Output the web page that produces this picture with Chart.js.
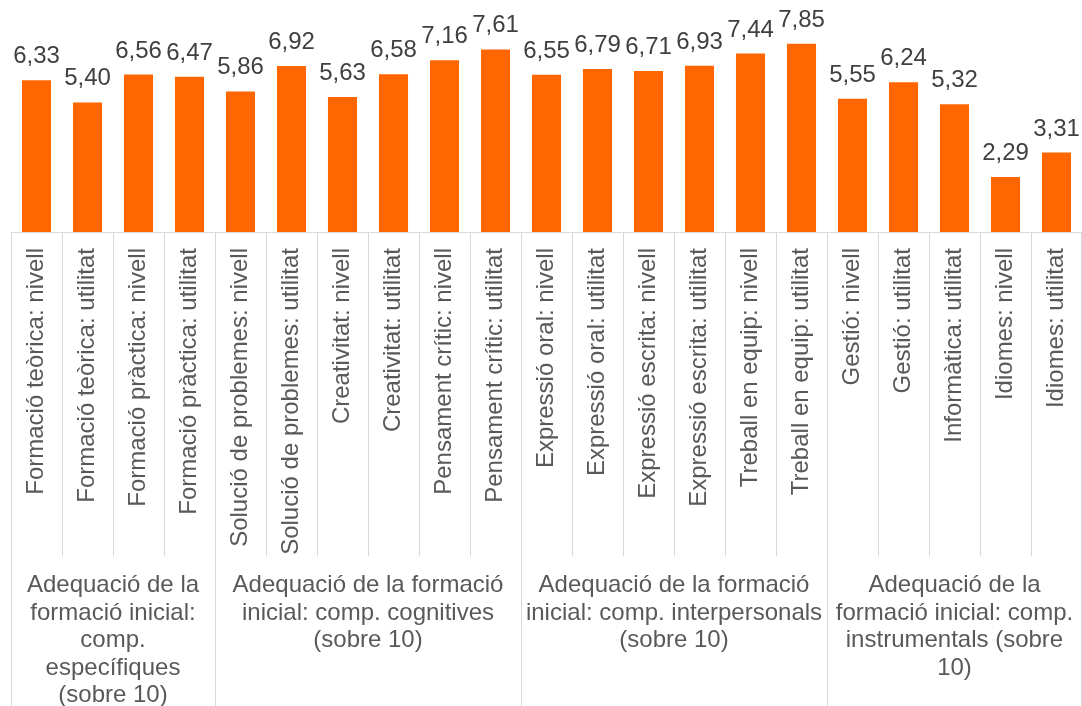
<!DOCTYPE html>
<html>
<head>
<meta charset="utf-8">
<script src="https://cdn.jsdelivr.net/npm/chart.js@4"></script>
<style>
html,body{margin:0;padding:0;background:#fff;overflow:hidden;}
#wrap{width:1082px;height:706px;position:relative;}
</style>
</head>
<body>
<div id="wrap"><canvas id="c"></canvas></div>
<script>
const categories = [
  "Formació teòrica: nivell","Formació teòrica: utilitat","Formació pràctica: nivell","Formació pràctica: utilitat",
  "Solució de problemes: nivell","Solució de problemes: utilitat","Creativitat: nivell","Creativitat: utilitat",
  "Pensament crític: nivell","Pensament crític: utilitat",
  "Expressió oral: nivell","Expressió oral: utilitat","Expressió escrita: nivell","Expressió escrita: utilitat",
  "Treball en equip: nivell","Treball en equip: utilitat",
  "Gestió: nivell","Gestió: utilitat","Informàtica: utilitat","Idiomes: nivell","Idiomes: utilitat"
];
const values = [6.33,5.40,6.56,6.47,5.86,6.92,5.63,6.58,7.16,7.61,6.55,6.79,6.71,6.93,7.44,7.85,5.55,6.24,5.32,2.29,3.31];
const groupLabels = [
  ["Adequació de la","formació inicial:","comp.","específiques","(sobre 10)"],
  ["Adequació de la formació","inicial: comp. cognitives","(sobre 10)"],
  ["Adequació de la formació","inicial: comp. interpersonals","(sobre 10)"],
  ["Adequació de la","formació inicial: comp.","instrumentals (sobre","10)"]
];
const groupSizes = [4,6,6,5];

const FONT = '"Liberation Sans", Arial, sans-serif';
const lineColor = '#d9d9d9';
const textColor = '#595959';

const decorPlugin = {
  id: 'decor',
  afterDatasetsDraw(chart) {
    const ctx = chart.ctx;
    const meta = chart.getDatasetMeta(0);
    ctx.save();
    ctx.font = '24px ' + FONT;
    ctx.fillStyle = '#404040';
    ctx.textAlign = 'center';
    ctx.textBaseline = 'alphabetic';
    meta.data.forEach((bar, i) => {
      const txt = values[i].toFixed(2).replace('.', ',');
      ctx.fillText(txt, bar.x, bar.y - 17);
    });
    ctx.restore();
  },
  afterDraw(chart) {
    const ctx = chart.ctx;
    const xs = chart.scales.x;
    const area = chart.chartArea;
    const n = categories.length;
    const w = (area.right - area.left) / n;
    const bottom = chart.height;
    const axisY = Math.round(area.bottom) + 0.5;
    ctx.save();
    ctx.strokeStyle = lineColor;
    ctx.lineWidth = 1;
    ctx.beginPath();
    ctx.moveTo(area.left, axisY);
    ctx.lineTo(area.right, axisY);
    ctx.stroke();
    const groupBounds = new Set([0]);
    let acc = 0;
    groupSizes.forEach(s => { acc += s; groupBounds.add(acc); });
    for (let i = 0; i <= n; i++) {
      let x = (i < n ? xs.getPixelForValue(i) - w / 2 : xs.getPixelForValue(n - 1) + w / 2);
      x = Math.min(Math.round(x), chart.width - 1) + 0.5;
      const yEnd = groupBounds.has(i) ? bottom : 556;
      ctx.beginPath();
      ctx.moveTo(x, axisY);
      ctx.lineTo(x, yEnd);
      ctx.stroke();
    }
    ctx.font = '24px ' + FONT;
    ctx.fillStyle = textColor;
    ctx.textAlign = 'center';
    ctx.textBaseline = 'alphabetic';
    let start = 0;
    groupSizes.forEach((s, g) => {
      const x0 = xs.getPixelForValue(start) - w / 2;
      const x1 = xs.getPixelForValue(start + s - 1) + w / 2;
      const cx = (x0 + x1) / 2;
      groupLabels[g].forEach((line, k) => {
        ctx.fillText(line, cx, 592 + k * 27.6);
      });
      start += s;
    });
    ctx.restore();
  }
};

new Chart(document.getElementById('c'), {
  type: 'bar',
  data: {
    labels: categories,
    datasets: [{
      data: values,
      backgroundColor: '#FF6600',
      borderWidth: 0,
      barPercentage: 0.57,
      categoryPercentage: 1.0
    }]
  },
  options: {
    responsive: true,
    maintainAspectRatio: false,
    animation: false,
    layout: { padding: { left: 11, right: 0, top: 0, bottom: 0 } },
    plugins: { legend: { display: false }, tooltip: { enabled: false } },
    scales: {
      x: {
        grid: { display: false, drawTicks: false },
        border: { display: false },
        ticks: {
          autoSkip: false,
          minRotation: 90,
          maxRotation: 90,
          padding: 16,
          color: textColor,
          font: { size: 24, family: FONT }
        },
        afterFit(scale) { scale.height = 474; scale.paddingLeft = 0; scale.paddingRight = 0; }
      },
      y: {
        display: false,
        min: 0,
        max: 9.67
      }
    }
  },
  plugins: [decorPlugin]
});
</script>
</body>
</html>
